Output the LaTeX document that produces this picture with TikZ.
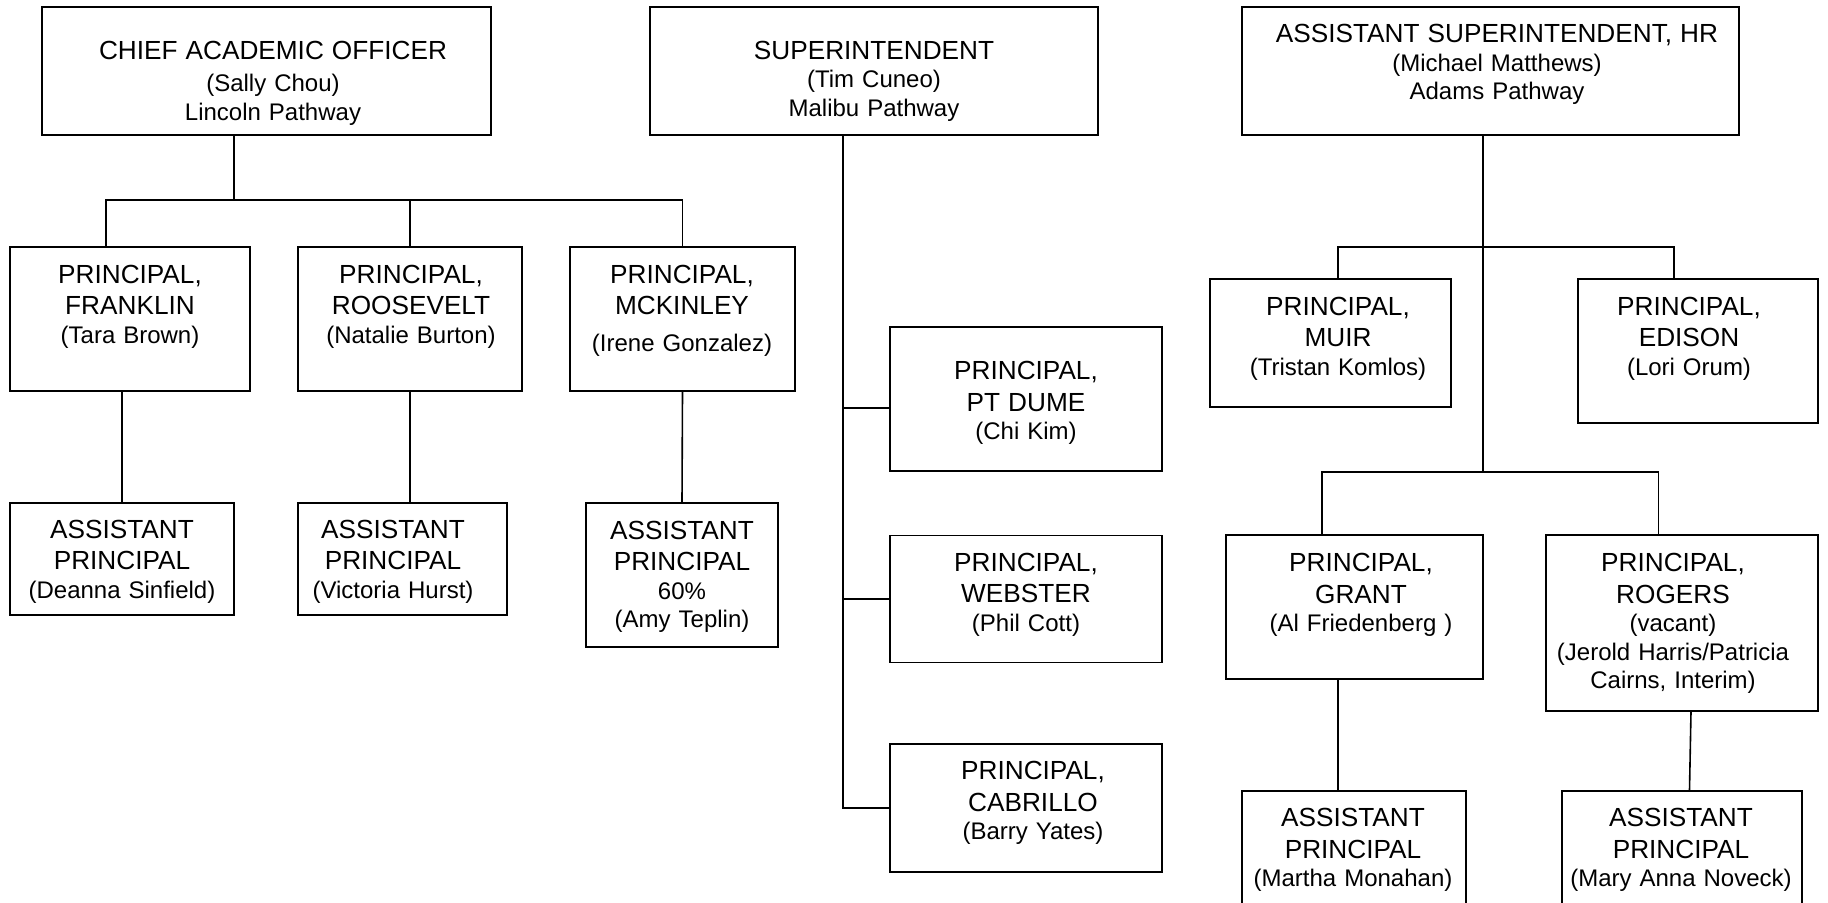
\documentclass[tikz,border=0pt]{standalone}
\usepackage{fontspec}
\setmainfont{Liberation Sans}
\newcommand{\rolefont}{\fontsize{13.1}{14.25}\selectfont}
\tikzset{
  orgbox/.style={draw,line width=0.8pt,inner sep=0pt},
  orgtext/.style={anchor=base,align=center,text width=250pt,inner sep=0pt,font=\fontsize{12}{14.25}\selectfont},
  link/.style={line width=0.8pt}
}
\begin{document}
\begin{tikzpicture}[x=0.5pt,y=-0.5pt]
  \useasboundingbox (0,0) rectangle (1828,902);
  \node[orgbox,minimum width=224.5pt,minimum height=64pt] (cao) at (266.5,71) {};
  \node[orgbox,minimum width=224pt,minimum height=64pt] (supt) at (874,71) {};
  \node[orgbox,minimum width=248.5pt,minimum height=64pt] (hr) at (1490.5,71) {};
  \node[orgbox,minimum width=120pt,minimum height=72pt] (franklin) at (130,319) {};
  \node[orgbox,minimum width=112pt,minimum height=72pt] (roosevelt) at (410,319) {};
  \node[orgbox,minimum width=112.5pt,minimum height=72pt] (mckinley) at (682.5,319) {};
  \node[orgbox,minimum width=112pt,minimum height=56pt] (apfranklin) at (122,559) {};
  \node[orgbox,minimum width=104.5pt,minimum height=56pt] (aproosevelt) at (402.5,559) {};
  \node[orgbox,minimum width=96pt,minimum height=72pt] (apmckinley) at (682,575) {};
  \node[orgbox,minimum width=136pt,minimum height=72pt] (ptdume) at (1026,399) {};
  \node[orgbox,minimum width=136pt,minimum height=63.5pt] (webster) at (1026,599) {};
  \node[orgbox,minimum width=136pt,minimum height=64pt] (cabrillo) at (1026,808) {};
  \node[orgbox,minimum width=120.5pt,minimum height=64pt] (muir) at (1330.5,343) {};
  \node[orgbox,minimum width=120pt,minimum height=72pt] (edison) at (1698,351) {};
  \node[orgbox,minimum width=128.5pt,minimum height=72pt] (grant) at (1354.5,607) {};
  \node[orgbox,minimum width=136pt,minimum height=88pt] (rogers) at (1682,623) {};
  \node[orgbox,minimum width=112pt,minimum height=60.5pt] (apgrant) at (1354,851.5) {};
  \node[orgbox,minimum width=120pt,minimum height=60.5pt] (aprogers) at (1682,851.5) {};

  \coordinate (caobus) at (234,200);
  \draw[link] (cao.south -| caobus) -- (caobus);
  \draw[link] ([xshift=-12pt]franklin.north) |- (caobus) -| (mckinley.north);
  \draw[link] (roosevelt.north) -- (roosevelt.north |- caobus);
  \draw[link] (apfranklin.north) -- (apfranklin.north |- franklin.south);
  \draw[link] (roosevelt.south) -- (roosevelt.south |- aproosevelt.north);
  \draw[link] (mckinley.south) -- (apmckinley.north);

  \coordinate (suptbus) at ([xshift=-15.5pt]supt.south);
  \draw[link] (suptbus) |- (cabrillo.west);
  \draw[link] (webster.west) -- (webster.west -| suptbus);
  \draw[link] ([yshift=-4.5pt]ptdume.west) -- ([yshift=-4.5pt]ptdume.west -| suptbus);

  \coordinate (hrtop) at (1483,247);
  \coordinate (hrlow) at (1483,472);
  \draw[link] (hr.south -| hrlow) -- (hrlow);
  \draw[link] ([xshift=3.75pt]muir.north) |- (hrtop) -| ([xshift=-12pt]edison.north);
  \draw[link] ([xshift=-16.25pt]grant.north) |- (hrlow) -| ([xshift=-11.75pt]rogers.north);
  \draw[link] ([xshift=-8.25pt]grant.south) -- ([xshift=-8pt]apgrant.north);
  \draw[link] ([xshift=4.5pt]rogers.south) -- ([xshift=3.75pt]aprogers.north);

  \node[orgtext] (tcao) at (273,59.3) {{\rolefont CHIEF ACADEMIC OFFICER}\\[2pt](Sally Chou)\\Lincoln Pathway};
  \node[orgtext] (tsupt) at (874,59.3) {{\rolefont SUPERINTENDENT}\\(Tim Cuneo)\\Malibu Pathway};
  \node[orgtext] (thr) at (1497,42.7) {{\rolefont ASSISTANT SUPERINTENDENT, HR}\\(Michael Matthews)\\Adams Pathway};
  \node[orgtext] (tfranklin) at (130,283.3) {{\rolefont PRINCIPAL,}\\[1.5pt]{\rolefont FRANKLIN}\\(Tara Brown)};
  \node[orgtext] (troosevelt) at (411,283.3) {{\rolefont PRINCIPAL,}\\[1.5pt]{\rolefont ROOSEVELT}\\(Natalie Burton)};
  \node[orgtext] (tmckinley) at (682,283.3) {{\rolefont PRINCIPAL,}\\[1.5pt]{\rolefont MCKINLEY}\\[4pt](Irene Gonzalez)};
  \node[orgtext] (tapfranklin) at (122,538) {{\rolefont ASSISTANT}\\[1.5pt]{\rolefont PRINCIPAL}\\(Deanna Sinfield)};
  \node[orgtext] (taproosevelt) at (393,538) {{\rolefont ASSISTANT}\\[1.5pt]{\rolefont PRINCIPAL}\\(Victoria Hurst)};
  \node[orgtext] (tapmckinley) at (682,539) {{\rolefont ASSISTANT}\\[1.5pt]{\rolefont PRINCIPAL}\\60\%\\(Amy Teplin)};
  \node[orgtext] (tptdume) at (1026,379.6) {{\rolefont PRINCIPAL,}\\[1.5pt]{\rolefont PT DUME}\\(Chi Kim)};
  \node[orgtext] (twebster) at (1026,571) {{\rolefont PRINCIPAL,}\\[1.5pt]{\rolefont WEBSTER}\\(Phil Cott)};
  \node[orgtext] (tcabrillo) at (1033,779.5) {{\rolefont PRINCIPAL,}\\[1.5pt]{\rolefont CABRILLO}\\(Barry Yates)};
  \node[orgtext] (tmuir) at (1338,315) {{\rolefont PRINCIPAL,}\\[1.5pt]{\rolefont MUIR}\\(Tristan Komlos)};
  \node[orgtext] (tedison) at (1689,315) {{\rolefont PRINCIPAL,}\\[1.5pt]{\rolefont EDISON}\\(Lori Orum)};
  \node[orgtext] (tgrant) at (1361,571.7) {{\rolefont PRINCIPAL,}\\[1.5pt]{\rolefont GRANT}\\(Al Friedenberg )};
  \node[orgtext] (trogers) at (1673,571.7) {{\rolefont PRINCIPAL,}\\[1.5pt]{\rolefont ROGERS}\\(vacant)\\(Jerold Harris/Patricia\\Cairns, Interim)};
  \node[orgtext] (tapgrant) at (1353,826.7) {{\rolefont ASSISTANT}\\[1.5pt]{\rolefont PRINCIPAL}\\(Martha Monahan)};
  \node[orgtext] (taprogers) at (1681,826.7) {{\rolefont ASSISTANT}\\[1.5pt]{\rolefont PRINCIPAL}\\(Mary Anna Noveck)};
\end{tikzpicture}
\end{document}
